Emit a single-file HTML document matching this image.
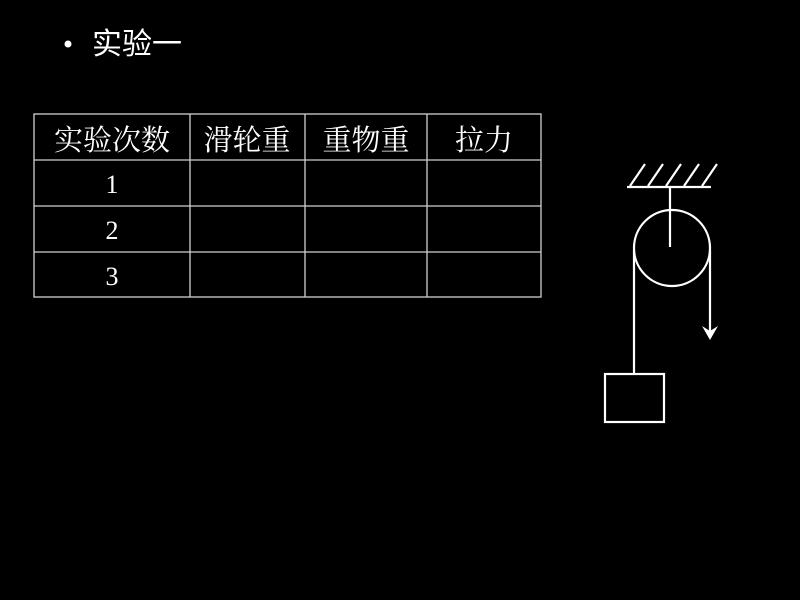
<!DOCTYPE html>
<html><head><meta charset="utf-8"><style>
html,body{margin:0;padding:0;background:#000;}
svg{display:block}
text{fill:#fff;font-family:"Liberation Serif","Noto Serif CJK SC",serif;}
</style></head><body>
<svg width="800" height="600" viewBox="0 0 800 600">
<rect width="800" height="600" fill="#000"/>
<circle cx="68" cy="44" r="3.5" fill="#fff"/>
<text x="92" y="54" font-size="30" style="font-family:'Liberation Sans','Noto Sans CJK SC',sans-serif">实验一</text>
<g stroke="#d0d0d0" stroke-width="1.3" fill="none">
<rect x="34" y="114" width="507" height="183"/>
<line x1="34" y1="160" x2="541" y2="160"/>
<line x1="34" y1="206" x2="541" y2="206"/>
<line x1="34" y1="252" x2="541" y2="252"/>
<line x1="190" y1="114" x2="190" y2="297"/>
<line x1="305" y1="114" x2="305" y2="297"/>
<line x1="427" y1="114" x2="427" y2="297"/>
</g>
<g font-size="29" text-anchor="middle" style="font-family:'Liberation Sans','Noto Sans CJK SC',sans-serif">
<text x="112" y="150">实验次数</text>
<text x="247" y="150">滑轮重</text>
<text x="366" y="150">重物重</text>
<text x="484" y="150">拉力</text>
</g>
<g font-size="26" text-anchor="middle">
<text x="112" y="193">1</text>
<text x="112" y="239">2</text>
<text x="112" y="285">3</text>
</g>
<g stroke="#fff" stroke-width="2.2" fill="none">
<line x1="627" y1="187" x2="711" y2="187"/>
<line x1="630" y1="186" x2="645" y2="164"/>
<line x1="648" y1="186" x2="663" y2="164"/>
<line x1="666" y1="186" x2="681" y2="164"/>
<line x1="684" y1="186" x2="699" y2="164"/>
<line x1="702" y1="186" x2="717" y2="164"/>
<line x1="670" y1="187" x2="670" y2="247"/>
<circle cx="672" cy="248" r="38"/>
<line x1="634" y1="250" x2="634" y2="374"/>
<line x1="710" y1="250" x2="710" y2="336"/>
<rect x="605" y="374" width="59" height="48"/>
</g>
<path d="M702 326 L710 340 L718 326 L710 331 Z" fill="#fff"/>
</svg>
</body></html>
